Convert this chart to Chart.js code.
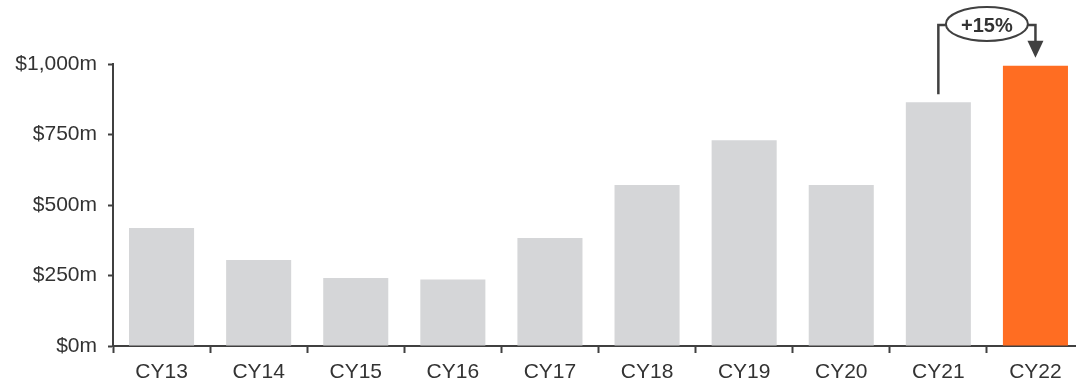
<!DOCTYPE html>
<html>
<head>
<meta charset="utf-8">
<script src="https://cdn.jsdelivr.net/npm/chart.js@4/dist/chart.umd.min.js"></script>
<style>
  html, body { margin: 0; padding: 0; background: #fff; overflow: hidden; }
</style>
</head>
<body>
<canvas id="revenueChart" width="1100" height="386"></canvas>
<script>
// Annual revenue by calendar year ($m)
const years = ['CY13', 'CY14', 'CY15', 'CY16', 'CY17', 'CY18', 'CY19', 'CY20', 'CY21', 'CY22'];
const revenue = [418, 305, 241, 236, 383, 571, 730, 571, 864, 994];
const yTicks = [0, 250, 500, 750, 1000];
const growthLabel = '+15%';

const grey = '#d5d6d8';
const orange = '#ff6d22';
const ink = '#404040';
const barColors = years.map((y, i) => i === years.length - 1 ? orange : grey);

// Bracket with an ellipse label from CY21 to CY22
const growthBracket = {
    id: 'growthBracket',
    afterDatasetsDraw(chart) {
        const ctx = chart.ctx;
        const x = chart.scales.x;
        const y = chart.scales.y;
        const n = revenue.length;
        const x0 = x.getPixelForValue(n - 2);
        const x1 = x.getPixelForValue(n - 1);
        const yStart = y.getPixelForValue(revenue[n - 2]) - 8;
        const yEnd = y.getPixelForValue(revenue[n - 1]) - 8;
        const top = 25;
        const cx = (x0 + x1) / 2;
        const cy = 24;
        const rx = 41, ry = 17;

        ctx.save();
        ctx.strokeStyle = ink;
        ctx.lineWidth = 2.5;
        ctx.beginPath();
        ctx.moveTo(x0, yStart);
        ctx.lineTo(x0, top);
        ctx.lineTo(cx - rx, top);
        ctx.moveTo(cx + rx, top);
        ctx.lineTo(x1, top);
        ctx.lineTo(x1, yEnd - 15);
        ctx.stroke();

        // arrow head
        ctx.fillStyle = ink;
        ctx.beginPath();
        ctx.moveTo(x1 - 8, yEnd - 17);
        ctx.lineTo(x1 + 8, yEnd - 17);
        ctx.lineTo(x1, yEnd);
        ctx.closePath();
        ctx.fill();

        // label ellipse
        ctx.lineWidth = 2;
        ctx.fillStyle = '#fff';
        ctx.beginPath();
        ctx.ellipse(cx, cy, rx, ry, 0, 0, Math.PI * 2);
        ctx.fill();
        ctx.stroke();

        ctx.fillStyle = '#333';
        ctx.font = 'bold 20px "Liberation Sans", Arial, sans-serif';
        ctx.textAlign = 'center';
        ctx.textBaseline = 'middle';
        ctx.fillText(growthLabel, cx, cy + 2);
        ctx.restore();
    }
};

const ctx = document.getElementById('revenueChart').getContext('2d');
new Chart(ctx, {
    type: 'bar',
    data: {
        labels: years,
        datasets: [{
            data: revenue,
            backgroundColor: barColors,
            borderWidth: 0,
            categoryPercentage: 1,
            barPercentage: 0.67
        }]
    },
    options: {
        responsive: false,
        animation: false,
        devicePixelRatio: 1,
        layout: { padding: { top: 64, right: 16, left: 0, bottom: 0 } },
        plugins: {
            legend: { display: false },
            tooltip: { enabled: false }
        },
        scales: {
            x: {
                grid: {
                    display: true,
                    drawOnChartArea: false,
                    drawTicks: true,
                    tickLength: 7,
                    tickWidth: 2,
                    color: ink,
                    offset: true
                },
                border: { color: ink, width: 2 },
                ticks: {
                    color: '#333',
                    padding: 7,
                    font: { family: '"Liberation Sans", Arial, sans-serif', size: 21 }
                },
                afterFit: s => { s.height = 40; }
            },
            y: {
                min: 0,
                max: 1000,
                afterBuildTicks: s => { s.ticks = yTicks.map(v => ({ value: v })); },
                grid: {
                    drawOnChartArea: false,
                    drawTicks: true,
                    tickLength: 5,
                    tickWidth: 2,
                    color: ink
                },
                border: { color: ink, width: 2 },
                ticks: {
                    color: '#333',
                    padding: 11,
                    font: { family: '"Liberation Sans", Arial, sans-serif', size: 21 },
                    callback: v => '$' + v.toLocaleString('en-US') + 'm'
                },
                afterFit: s => { s.width = 113; }
            }
        }
    },
    plugins: [growthBracket]
});
</script>
</body>
</html>
